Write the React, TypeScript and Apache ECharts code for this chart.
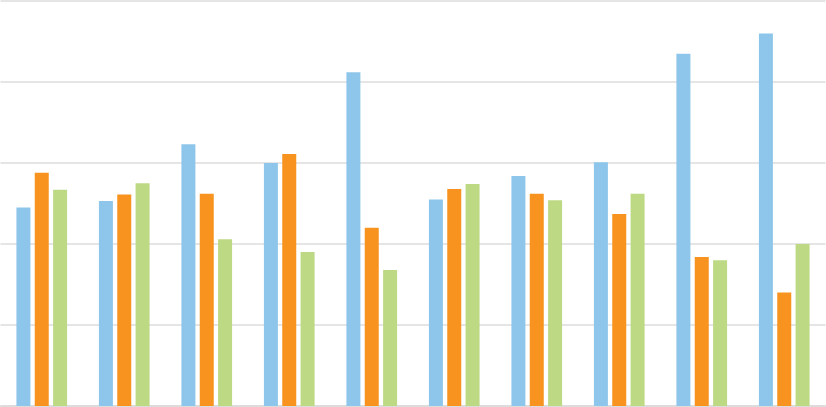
import * as echarts from "echarts";
import { useEffect, useRef } from "react";

const categories = ["1", "2", "3", "4", "5", "6", "7", "8", "9", "10"];
const seriesA = [2.45, 2.53, 3.23, 3.0, 4.12, 2.55, 2.84, 3.01, 4.35, 4.6];
const seriesB = [2.88, 2.61, 2.62, 3.11, 2.2, 2.68, 2.62, 2.37, 1.84, 1.4];
const seriesC = [2.67, 2.75, 2.06, 1.9, 1.68, 2.74, 2.54, 2.62, 1.8, 2.0];
const colors = ["#8EC6EB", "#F7931E", "#BDD984"];

export default function App() {
  const chartRef = useRef<HTMLDivElement>(null);

  useEffect(() => {
    const chart = echarts.init(chartRef.current, undefined, { renderer: "svg" });
    const bar = (name: string, data: number[], color: string) => ({
      name,
      type: "bar",
      data,
      barWidth: 14,
      barGap: "31%",
      itemStyle: { color },
    });
    chart.setOption({
      animation: false,
      grid: { left: 0.5, right: 0.5, top: 1, bottom: 1 },
      xAxis: {
        type: "category",
        data: categories,
        axisLabel: { show: false },
        axisTick: { show: false },
        axisLine: { lineStyle: { color: "#d9d9d9", width: 1.5 } },
      },
      yAxis: {
        type: "value",
        min: 0,
        max: 5,
        interval: 1,
        axisLabel: { show: false },
        axisTick: { show: false },
        axisLine: { show: false },
        splitLine: { lineStyle: { color: "#dcdcdc", width: 1.5 } },
      },
      series: [
        bar("A", seriesA, colors[0]),
        bar("B", seriesB, colors[1]),
        bar("C", seriesC, colors[2]),
      ],
    });
    return () => chart.dispose();
  }, []);

  return (
    <div
      ref={chartRef}
      style={{ position: "absolute", left: 0, top: 0, width: 826, height: 407, background: "#fff" }}
    ></div>
  );
}
